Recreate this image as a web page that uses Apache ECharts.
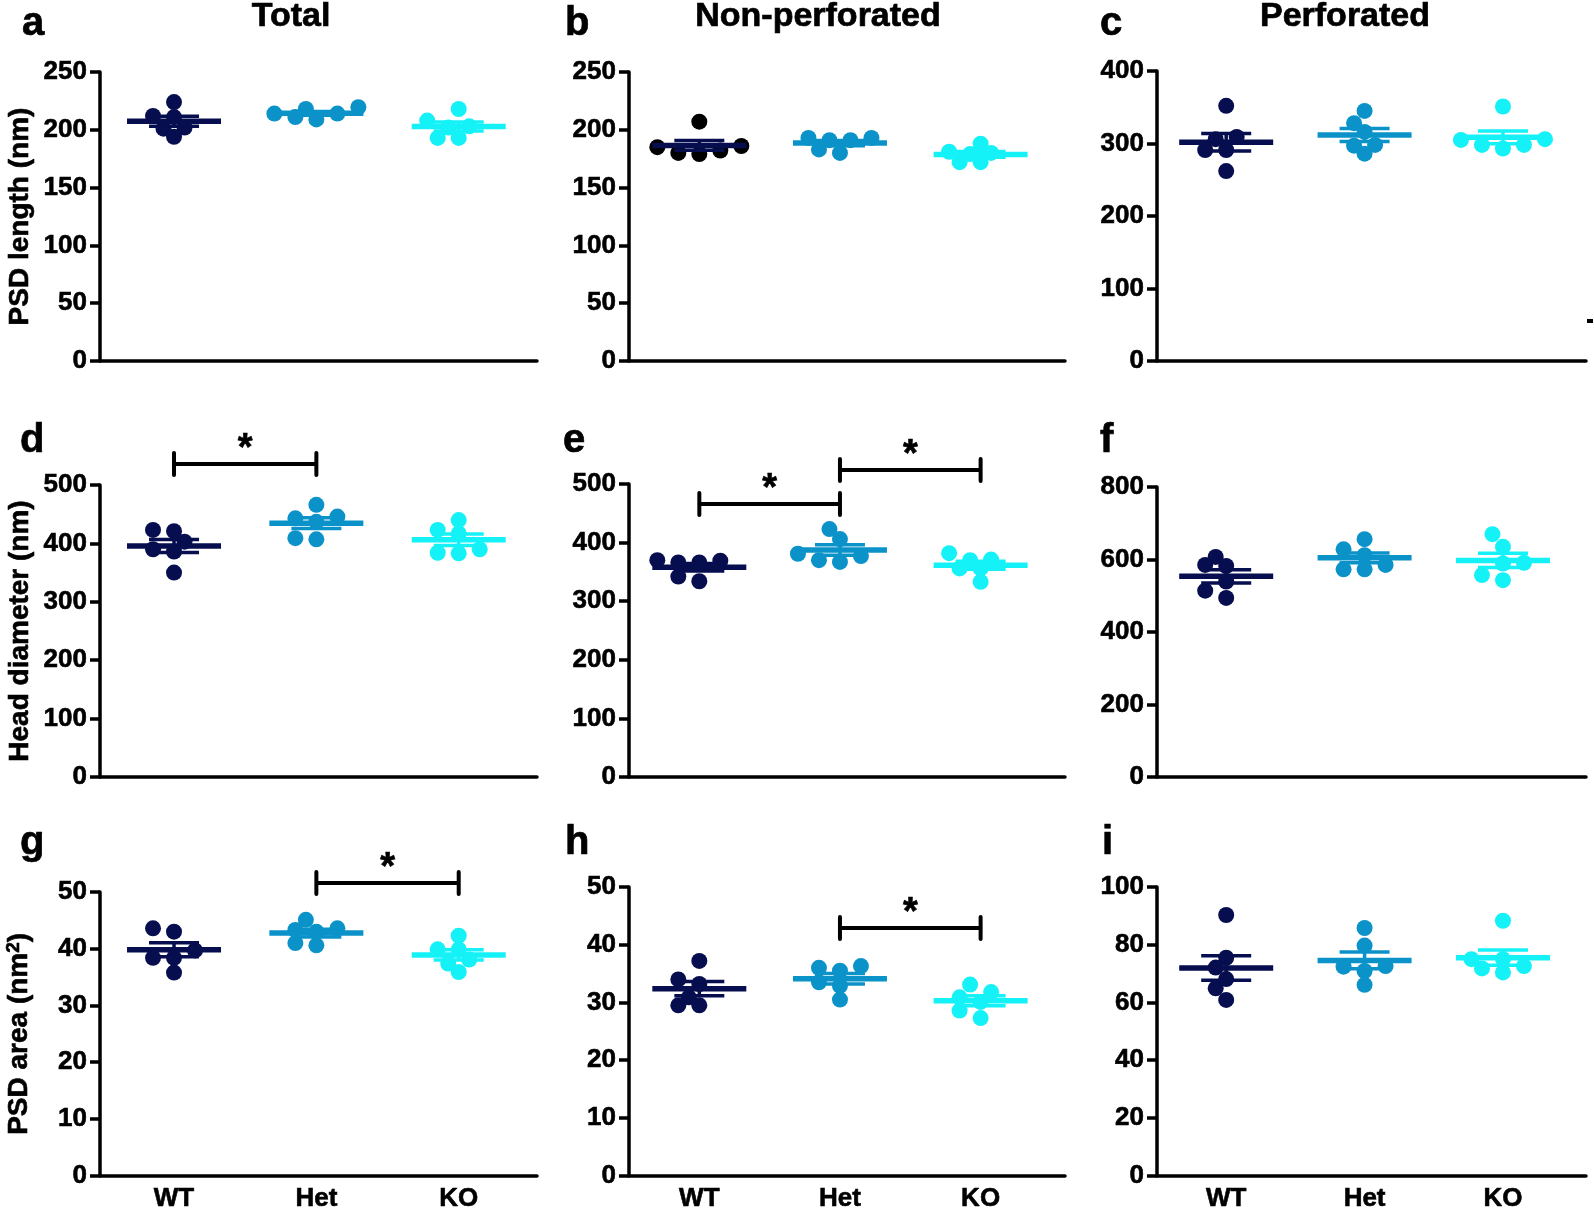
<!DOCTYPE html>
<html><head><meta charset="utf-8">
<script src="https://cdn.jsdelivr.net/npm/echarts@6/dist/echarts.min.js"></script>
<style>html,body{margin:0;padding:0;background:#fff}#c{width:1594px;height:1212px}</style>
</head><body><div id="c"></div>
<script>
// ---------------- data ----------------
const groups = ['WT', 'Het', 'KO'];
const panelLetters = ['a', 'b', 'c', 'd', 'e', 'f', 'g', 'h', 'i'];
const columnTitles = ['Total', 'Non-perforated', 'Perforated'];
const rowAxisNames = ['PSD length (nm)', 'Head diameter (nm)', 'PSD area (nm{sup|2})'];
const yMax  = [250, 250, 400, 500, 500, 800, 50, 50, 100];
const yStep = [50, 50, 100, 100, 100, 200, 10, 10, 20];

// a: PSD length, total
const a_WT  = [224, 212, 211, 202, 201, 194];
const a_Het = [214, 218, 209, 214, 211, 219.5];
const a_KO  = [218, 202, 208, 203, 193, 193];
// b: PSD length, non-perforated
const b_WT  = [207, 185, 186, 182, 179, 180];
const b_Het = [191, 193, 180, 191, 183, 193];
const b_KO  = [179, 181, 172, 180, 172, 188];
// c: PSD length, perforated
const c_WT  = [352, 306, 291, 309, 291, 262];
const c_Het = [328, 345, 316, 298, 297, 286];
const c_KO  = [351, 298, 305, 293, 306, 298];
// d: head diameter, total
const d_WT  = [423, 421, 403, 390, 386, 350];
const d_Het = [466, 446, 443, 437, 409, 407];
const d_KO  = [440, 423, 417, 390, 383, 384];
// e: head diameter, non-perforated
const e_WT  = [366, 369, 366, 370, 334, 342];
const e_Het = [423, 406, 377, 381, 367, 370];
const e_KO  = [382, 371, 370, 356, 356, 333];
// f: head diameter, perforated
const f_WT  = [607, 585, 582, 539, 514, 494];
const f_Het = [656, 628, 612, 585, 573, 573];
const f_KO  = [670, 635, 591, 589, 557, 543];
// g: PSD area, total
const g_WT  = [43.6, 43.0, 38.4, 38.4, 39.7, 35.8];
const g_Het = [45.1, 43.6, 43.0, 43.3, 40.6, 41.0];
const g_KO  = [42.3, 39.9, 39.9, 38.1, 37.4, 35.9];
// h: PSD area, non-perforated
const h_WT  = [37.2, 34.0, 33.2, 30.9, 29.5, 29.5];
const h_Het = [36.0, 35.5, 36.3, 33.5, 32.9, 30.5];
const h_KO  = [33.1, 31.8, 30.9, 30.1, 28.6, 27.3];
// i: PSD area, perforated
const i_WT  = [90.3, 75.5, 72.1, 68.1, 64.9, 60.9];
const i_Het = [85.8, 79.7, 72.4, 72.6, 70.9, 66.1];
const i_KO  = [88.3, 72.6, 70.4, 71.8, 75.0, 75.0];

const panelData = [
  [a_WT, a_Het, a_KO], [b_WT, b_Het, b_KO], [c_WT, c_Het, c_KO],
  [d_WT, d_Het, d_KO], [e_WT, e_Het, e_KO], [f_WT, f_Het, f_KO],
  [g_WT, g_Het, g_KO], [h_WT, h_Het, h_KO], [i_WT, i_Het, i_KO]
];

// significance brackets (panel index, group from, group to, level in data units)
const sigPanel = [3, 4, 4, 6, 7];
const sigFrom  = [0, 0, 1, 1, 1];
const sigTo    = [1, 1, 2, 2, 2];
const sigLevel = [536, 466, 524, 51.6, 42.9];

// ---------------- layout / style ----------------
const FONT = '"Liberation Sans", Arial, Helvetica, sans-serif';
const colLeft  = [100, 629, 1157];
const colRight = [537, 1065, 1586];
const xMin = [-0.52, -0.5, -0.5];
const xMax = [2.55, 2.6, 2.6];
const rowTops = [[72, 72, 71], [485, 484, 487], [892, 887, 887]];
const rowBottom = [361, 777, 1179];
const dotColors = ['#070e4f', '#0b93c9', '#14f2f8'];
const lineColors = ['#070e4f', '#0b93c9', '#14f2f8'];
const DOT = 16;
const heavy = { textBorderColor: '#000', textBorderWidth: 0.6 };

function mean(a) { return a.reduce((s, v) => s + v, 0) / a.length; }
function sem(a) {
  const m = mean(a);
  const v = a.reduce((s, x) => s + (x - m) * (x - m), 0) / (a.length - 1);
  return Math.sqrt(v) / Math.sqrt(a.length);
}
// simple beeswarm spreading (pixel based) -> offsets in category units
function swarm(values, pxPerY, pxPerX) {
  const step = 10.5, minD = 13;
  const idx = values.map((v, i) => i).sort((p, q) => values[p] - values[q]);
  const placed = [];
  const off = new Array(values.length).fill(0);
  idx.forEach(i => {
    const y = values[i] * pxPerY;
    for (let k = 0; k < 20; k++) {
      const n = Math.ceil(k / 2) * (k % 2 === 1 ? -1 : 1);
      const x = n * step;
      if (placed.every(p => Math.hypot(p[0] - x, p[1] - y) >= minD)) {
        placed.push([x, y]); off[i] = x / pxPerX; break;
      }
    }
  });
  return off;
}

const grid = [], xAxis = [], yAxis = [], series = [];
for (let p = 0; p < 9; p++) {
  const r = Math.floor(p / 3), c = p % 3;
  const top = rowTops[r][c], bottom = rowBottom[r];
  const W = colRight[c] - colLeft[c], H = bottom - top;
  grid.push({ left: colLeft[c], top: top, width: W, height: H });
  xAxis.push({
    gridIndex: p, type: 'value', min: xMin[c], max: xMax[c],
    axisLine: { show: true, onZero: false, lineStyle: { color: '#000', width: 3.5 } },
    axisTick: { show: false }, splitLine: { show: false },
    axisLabel: Object.assign({
      show: r === 2, customValues: [0, 1, 2], formatter: v => groups[Math.round(v)],
      fontSize: 26, fontWeight: 'bold', color: '#000', fontFamily: FONT, margin: 10
    }, heavy)
  });
  yAxis.push({
    gridIndex: p, type: 'value', min: 0, max: yMax[p], interval: yStep[p],
    axisLine: { show: true, onZero: false, lineStyle: { color: '#000', width: 3.5 } },
    axisTick: { show: true, length: 10, lineStyle: { color: '#000', width: 3.5 } },
    splitLine: { show: false },
    axisLabel: Object.assign({ fontSize: 26, fontWeight: 'bold', color: '#000', fontFamily: FONT, margin: 13 }, heavy),
    name: c === 0 ? rowAxisNames[r] : '', nameLocation: 'middle', nameGap: 66, nameRotate: 90,
    nameTextStyle: Object.assign({
      fontSize: 28, fontWeight: 'bold', color: '#000', fontFamily: FONT,
      rich: { sup: Object.assign({ fontSize: 19, fontWeight: 'bold', color: '#000', fontFamily: FONT, verticalAlign: 'top', lineHeight: 30 }, heavy) }
    }, heavy)
  });
  const pxPerY = H / yMax[p], pxPerX = W / (xMax[c] - xMin[c]);
  panelData[p].forEach((vals, gi) => {
    const off = swarm(vals, pxPerY, pxPerX);
    series.push({
      type: 'scatter', xAxisIndex: p, yAxisIndex: p, symbol: 'circle', symbolSize: DOT,
      itemStyle: { color: (p === 1 && gi === 0) ? '#000000' : dotColors[gi], opacity: 1 },
      data: vals.map((v, i) => [gi + off[i], v]), z: 2, silent: true
    });
  });
  series.push({
    type: 'custom', xAxisIndex: p, yAxisIndex: p, z: 5, silent: true,
    encode: { x: 0, y: 1 },
    data: panelData[p].map((vals, gi) => [gi, mean(vals), sem(vals)]),
    renderItem: (params, api) => {
      const gi = api.value(0), m = api.value(1), s = api.value(2);
      const pm = api.coord([gi, m]), pu = api.coord([gi, m + s]), pl = api.coord([gi, m - s]);
      const col = lineColors[gi];
      const hm = 47, hs = 25;
      return { type: 'group', children: [
        { type: 'line', shape: { x1: pm[0], y1: pu[1], x2: pm[0], y2: pl[1] }, style: { stroke: col, lineWidth: 3.5 } },
        { type: 'line', shape: { x1: pm[0] - hs, y1: pu[1], x2: pm[0] + hs, y2: pu[1] }, style: { stroke: col, lineWidth: 3.5 } },
        { type: 'line', shape: { x1: pm[0] - hs, y1: pl[1], x2: pm[0] + hs, y2: pl[1] }, style: { stroke: col, lineWidth: 3.5 } },
        { type: 'line', shape: { x1: pm[0] - hm, y1: pm[1], x2: pm[0] + hm, y2: pm[1] }, style: { stroke: col, lineWidth: 5.5 } }
      ] };
    }
  });
  const bData = [];
  sigPanel.forEach((sp, k) => { if (sp === p) bData.push([sigFrom[k], sigTo[k], sigLevel[k]]); });
  if (bData.length) {
    series.push({
      type: 'custom', xAxisIndex: p, yAxisIndex: p, z: 6, silent: true, clip: false,
      encode: { x: [0, 1], y: 2 },
      data: bData,
      renderItem: (params, api) => {
        const a = api.coord([api.value(0), api.value(2)]);
        const b = api.coord([api.value(1), api.value(2)]);
        const t = 11;
        return { type: 'group', children: [
          { type: 'line', shape: { x1: a[0], y1: a[1], x2: b[0], y2: b[1] }, style: { stroke: '#000', lineWidth: 4 } },
          { type: 'line', shape: { x1: a[0], y1: a[1] - t, x2: a[0], y2: a[1] + t }, style: { stroke: '#000', lineWidth: 4, lineCap: 'round' } },
          { type: 'line', shape: { x1: b[0], y1: b[1] - t, x2: b[0], y2: b[1] + t }, style: { stroke: '#000', lineWidth: 4, lineCap: 'round' } },
          { type: 'text', x: (a[0] + b[0]) / 2, y: a[1] - 14,
            style: { text: '*', fontSize: 38, fontWeight: 'bold', fontFamily: FONT, fill: '#000', align: 'center', verticalAlign: 'middle', stroke: '#000', lineWidth: 0.6 } }
        ] };
      }
    });
  }
}

// text decorations: column titles and panel letters
const titleX = [291, 818, 1345];
const letterX = [[22, 565, 1100], [20, 563, 1100], [20, 565, 1102]];
const letterY = [24, 441, 843];
const graphic = [];
columnTitles.forEach((t, c) => graphic.push({
  type: 'text', x: titleX[c], y: 17,
  style: { text: t, fontSize: 34, fontWeight: 'bold', fontFamily: FONT, fill: '#000', align: 'center', verticalAlign: 'middle', stroke: '#000', lineWidth: 0.7 }
}));
panelLetters.forEach((l, p) => {
  const r = Math.floor(p / 3), c = p % 3;
  graphic.push({
    type: 'text', x: letterX[r][c], y: letterY[r],
    style: { text: l, fontSize: 40, fontWeight: 'bold', fontFamily: FONT, fill: '#000', align: 'left', verticalAlign: 'middle', stroke: '#000', lineWidth: 0.7 }
  });
});
graphic.push({ type: 'rect', shape: { x: 1587, y: 319, width: 6, height: 4 }, style: { fill: '#000' } });

const chart = echarts.init(document.getElementById('c'), null, { renderer: 'canvas' });
chart.setOption({
  backgroundColor: '#ffffff',
  animation: false,
  grid, xAxis, yAxis, series, graphic
});
</script></body></html>
